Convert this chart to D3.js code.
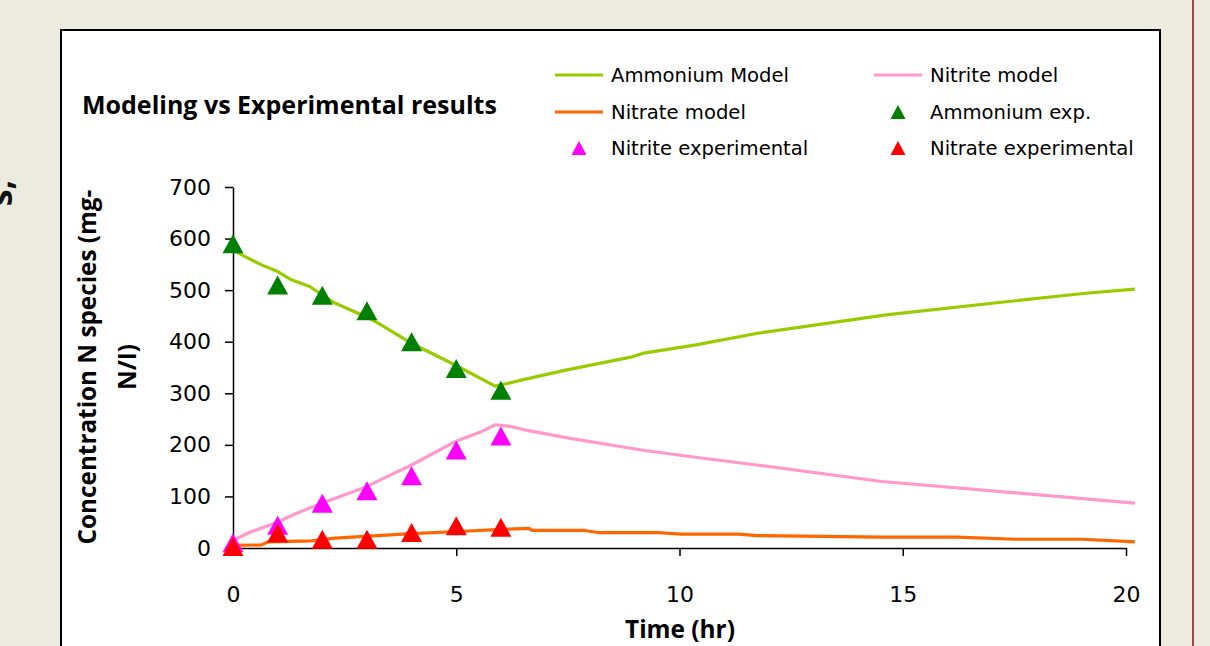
<!DOCTYPE html>
<html>
<head>
<meta charset="utf-8">
<script src="https://cdn.jsdelivr.net/npm/d3@7"></script>
<style>
    body { margin: 0; background: #edeadf; }
    svg { display: block; }
</style>
</head>
<body>
<div id="chart"></div>
<script>
// experimental points (hours)
var timeExp = [0, 1, 2, 3, 4, 5, 6];
var ammoniumExp = [590, 510, 490, 460, 400, 348, 306];
var nitriteExp = [10, 44, 87, 111, 140, 190, 217];
var nitrateExp = [3, 29, 17, 17, 30, 43, 40];

// model curves
var ammoniumModelT = [0, 0.27, 0.64, 1.0, 1.31, 1.72, 1.99, 2.28, 2.99, 3.25, 4.0, 4.3, 5.04, 5.87, 6.09, 6.48, 7.45, 8.91, 9.2, 10.37, 11.72, 14.63, 17.16, 19.1, 20.2];
var ammoniumModel = [578, 565, 549, 536, 520, 507, 491, 475, 448, 436, 397, 384, 352, 314, 318, 326, 345, 370, 378, 394, 416, 452, 476, 494, 502];

var nitriteModelT = [0, 0.42, 0.94, 1.39, 1.99, 2.96, 4.0, 4.97, 5.57, 5.88, 6.2, 6.53, 7.52, 9.22, 10.53, 11.73, 14.53, 17.53, 20.2];
var nitriteModel = [15, 32, 48, 66, 87, 118, 161, 206, 226, 239, 236, 229, 213, 189, 174, 161, 129, 107, 87];

var nitrateModelT = [0, 0.64, 0.79, 1.76, 2.28, 4.0, 5.04, 6.0, 6.63, 6.7, 7.88, 8.17, 9.53, 10.04, 11.33, 11.73, 14.53, 16.22, 17.53, 19.03, 20.2];
var nitrateModel = [5, 6, 12, 14, 19, 28, 32, 36, 38, 34, 34, 30, 30, 27, 27, 24, 21, 21, 17, 17, 12];

var xTicks = [0, 5, 10, 15, 20];
var yTicks = [0, 100, 200, 300, 400, 500, 600, 700];

var boldFont = "'Open Sans', Lato, sans-serif";
var tickFont = "'DejaVu Sans', sans-serif";

var svg = d3.select("#chart")
    .append("svg")
    .attr("width", 1210)
    .attr("height", 646);

// shrink/grow a bold label so it covers the same width as in the picture
function fitWidth(sel, target) {
    var w = sel.node().getBBox().width;
    var fs = parseFloat(sel.style("font-size"));
    sel.style("font-size", (fs * target / w) + "px");
}

// page bits outside the chart
svg.append("text")
    .attr("transform", "translate(12,193) rotate(-90)")
    .attr("text-anchor", "middle")
    .style("font-family", boldFont)
    .style("font-weight", "bold")
    .style("font-size", "34px")
    .attr("fill", "#111")
    .text("s,");

svg.append("line")
    .attr("x1", 1193).attr("x2", 1193)
    .attr("y1", 0).attr("y2", 646)
    .attr("stroke", "#a94442")
    .attr("stroke-width", 2);

// chart area box
svg.append("rect")
    .attr("x", 61).attr("y", 30)
    .attr("width", 1099).attr("height", 640)
    .attr("fill", "#fff")
    .attr("stroke", "#000")
    .attr("stroke-width", 2);

var x = d3.scaleLinear().domain([0, 20]).range([233, 1126]);
var y = d3.scaleLinear().domain([0, 700]).range([548, 187]);

// Y axis
var yAxis = svg.append("g")
    .attr("transform", "translate(233,0)")
    .call(d3.axisLeft(y).tickValues(yTicks).tickSize(8).tickPadding(14).tickSizeOuter(0));
yAxis.select(".domain").attr("stroke", "#000").attr("stroke-width", 1.5);
yAxis.selectAll(".tick line").attr("stroke", "#000").attr("stroke-width", 1.5);
yAxis.selectAll(".tick text")
    .style("font-family", tickFont)
    .style("font-size", "22px")
    .attr("fill", "#000");

// X axis
var xAxis = svg.append("g")
    .attr("transform", "translate(0,548)")
    .call(d3.axisBottom(x).tickValues(xTicks).tickSize(8).tickPadding(30).tickSizeOuter(0));
xAxis.select(".domain").attr("stroke", "#000").attr("stroke-width", 1.5);
xAxis.selectAll(".tick line").attr("stroke", "#000").attr("stroke-width", 1.5);
xAxis.selectAll(".tick text")
    .style("font-family", tickFont)
    .style("font-size", "22px")
    .attr("fill", "#000");

// model lines
var models = [
    {t: ammoniumModelT, v: ammoniumModel, color: "#99cc00"},
    {t: nitriteModelT, v: nitriteModel, color: "#ff99cc"},
    {t: nitrateModelT, v: nitrateModel, color: "#ff6600"}
];
var line = d3.line()
    .x(function (d) { return x(d[0]); })
    .y(function (d) { return y(d[1]); });

models.forEach(function (m) {
    var pts = m.t.map(function (t, i) { return [t, m.v[i]]; });
    svg.append("path")
        .datum(pts)
        .attr("d", line)
        .attr("fill", "none")
        .attr("stroke", m.color)
        .attr("stroke-width", 3.2)
        .attr("stroke-linejoin", "round");
});

// triangle marker centred on its box
function tri(cx, cy, w, h) {
    return "M" + cx + "," + (cy - h / 2) + "L" + (cx + w / 2) + "," + (cy + h / 2) +
        "L" + (cx - w / 2) + "," + (cy + h / 2) + "Z";
}

var experiments = [
    {v: ammoniumExp, color: "#008000"},
    {v: nitriteExp, color: "#ff00ff"},
    {v: nitrateExp, color: "#ff0000"}
];
experiments.forEach(function (e) {
    svg.append("g")
        .selectAll("path")
        .data(timeExp)
        .enter()
        .append("path")
        .attr("d", function (t, i) { return tri(x(t), y(e.v[i]), 21, 19); })
        .attr("fill", e.color);
});

// title
var title = svg.append("text")
    .attr("x", 82).attr("y", 114)
    .style("font-family", boldFont)
    .style("font-weight", "bold")
    .style("font-size", "24px")
    .attr("fill", "#000")
    .text("Modeling vs Experimental results");
fitWidth(title, 415);

// axis titles
var xt = svg.append("text")
    .attr("x", 680).attr("y", 638)
    .attr("text-anchor", "middle")
    .style("font-family", boldFont)
    .style("font-weight", "bold")
    .style("font-size", "24px")
    .attr("fill", "#000")
    .text("Time (hr)");
fitWidth(xt, 110);

var yl = svg.append("text")
    .attr("transform", "translate(96,367) rotate(-90)")
    .attr("text-anchor", "middle")
    .style("font-family", boldFont)
    .style("font-weight", "bold")
    .style("font-size", "24px")
    .attr("fill", "#000");
var yl1 = yl.append("tspan").attr("x", 0).attr("dy", 0).text("Concentration N species (mg-");
yl.append("tspan").attr("x", 0).attr("dy", 40).text("N/I)");
var ylw = yl1.node().getComputedTextLength();
yl.style("font-size", (24 * 355 / ylw) + "px");

// legend
var legendItems = [
    {label: "Ammonium Model", type: "line", color: "#99cc00", cx: 579, cy: 75},
    {label: "Nitrite model", type: "line", color: "#ff99cc", cx: 898, cy: 75},
    {label: "Nitrate model", type: "line", color: "#ff6600", cx: 579, cy: 112},
    {label: "Ammonium exp.", type: "tri", color: "#008000", cx: 898, cy: 112},
    {label: "Nitrite experimental", type: "tri", color: "#ff00ff", cx: 579, cy: 148},
    {label: "Nitrate experimental", type: "tri", color: "#ff0000", cx: 898, cy: 148}
];
var leg = svg.append("g");
legendItems.forEach(function (d) {
    if (d.type === "line") {
        leg.append("line")
            .attr("x1", d.cx - 24).attr("x2", d.cx + 24)
            .attr("y1", d.cy).attr("y2", d.cy)
            .attr("stroke", d.color)
            .attr("stroke-width", 3.2);
    } else {
        leg.append("path")
            .attr("d", tri(d.cx, d.cy, 15, 14))
            .attr("fill", d.color);
    }
    leg.append("text")
        .attr("x", d.cx + 32).attr("y", d.cy)
        .attr("dy", "0.36em")
        .style("font-family", tickFont)
        .style("font-size", "19.6px")
        .attr("fill", "#000")
        .text(d.label);
});
</script>
</body>
</html>
